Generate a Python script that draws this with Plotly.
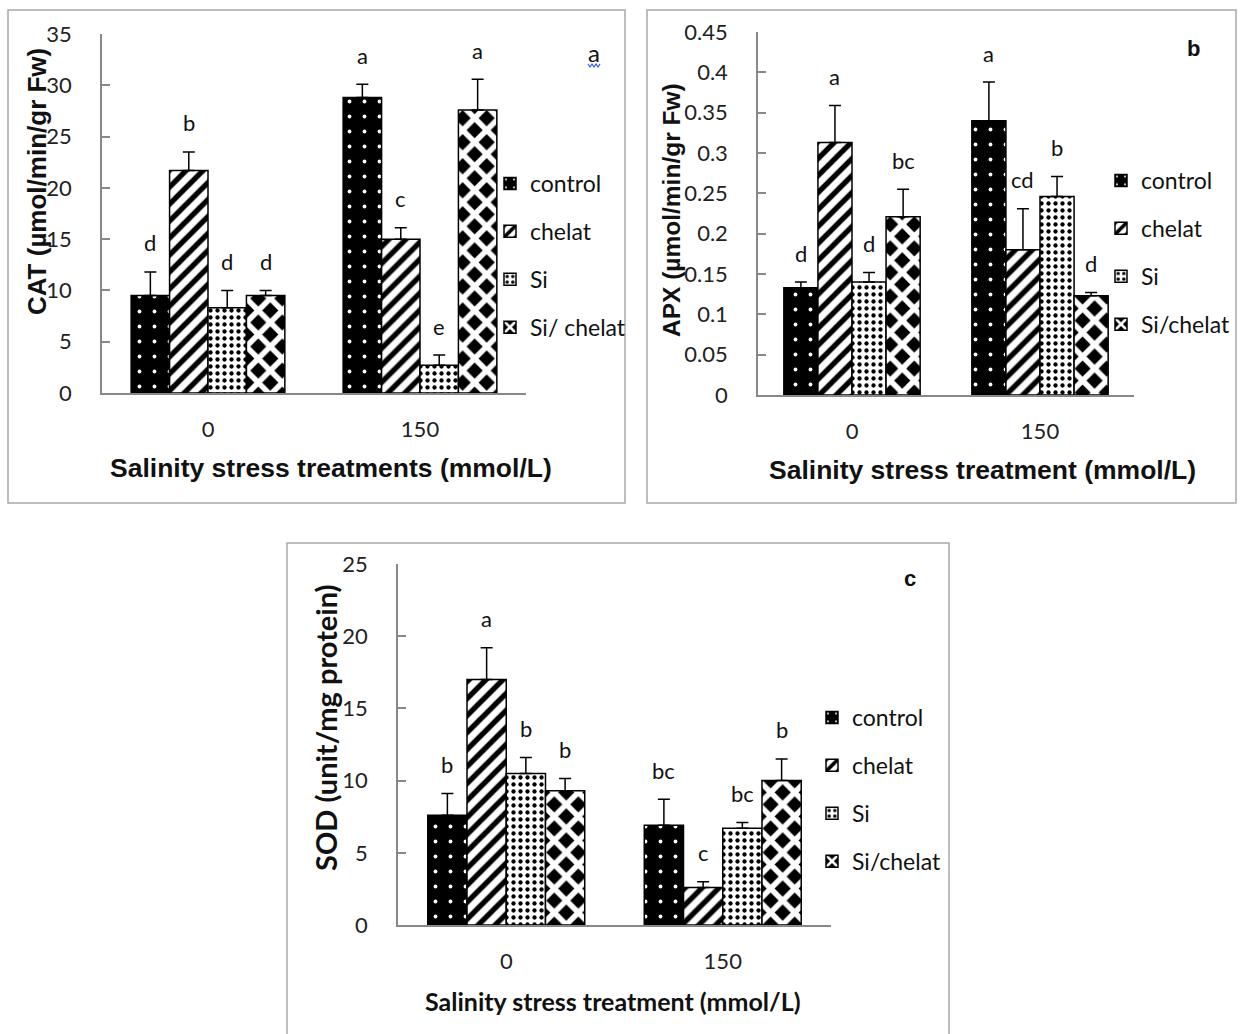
import plotly.graph_objects as go

# ---------------- data ----------------
groups = ["0", "150"]
treatments = ["control", "chelat", "Si", "Si/chelat"]
legend_a = ["control", "chelat", "Si", "Si/ chelat"]
legend_b = ["control", "chelat", "Si", "Si/chelat"]
legend_c = ["control", "chelat", "Si", "Si/chelat"]

cat_mean = [[9.5, 28.8], [21.7, 15.0], [8.3, 2.7], [9.5, 27.6]]
cat_err = [[2.3, 1.3], [1.8, 1.1], [1.7, 1.0], [0.5, 3.0]]
cat_letters = [["d", "a"], ["b", "c"], ["d", "e"], ["d", "a"]]

apx_mean = [[0.133, 0.340], [0.313, 0.180], [0.140, 0.246], [0.221, 0.123]]
apx_err = [[0.007, 0.048], [0.046, 0.051], [0.012, 0.025], [0.034, 0.004]]
apx_letters = [["d", "a"], ["a", "cd"], ["d", "b"], ["bc", "d"]]

sod_mean = [[7.6, 6.9], [17.0, 2.6], [10.5, 6.7], [9.3, 10.0]]
sod_err = [[1.5, 1.8], [2.2, 0.4], [1.1, 0.4], [0.85, 1.5]]
sod_letters = [["b", "bc"], ["a", "c"], ["b", "bc"], ["b", "b"]]

# ---------------- style ----------------
W, H = 1240, 1034
def px(x):
    return x / W
def py(y):
    return 1 - y / H

patterns = [
    dict(shape=".", bgcolor="black", fgcolor="white", size=15, solidity=0.05,
         fillmode="overlay", fgopacity=1),
    dict(shape="/", bgcolor="white", fgcolor="black", size=12, solidity=0.45,
         fillmode="overlay", fgopacity=1),
    dict(shape=".", bgcolor="white", fgcolor="black", size=7, solidity=0.3,
         fillmode="overlay", fgopacity=1),
    dict(shape="x", bgcolor="black", fgcolor="white", size=17, solidity=0.55,
         fillmode="overlay", fgopacity=1),
]
base_colors = ["black", "white", "white", "black"]

TICKFONT = dict(family="Lato", size=22, color="#222222")
LEGFONT = dict(family="Lato", size=23, color="#111111")
LETFONT = dict(family="Lato", size=22, color="#111111")
AXCOL = "#888888"
BARGAP = 0.275

panels = [
    dict(key="", mean=cat_mean, err=cat_err, letters=cat_letters, labels=legend_a,
         legend="legend", rng=[0, 35], dtick=5,
         dom_x=[px(102), px(526)], dom_y=[py(393), py(34)]),
    dict(key="2", mean=apx_mean, err=apx_err, letters=apx_letters, labels=legend_b,
         legend="legend2", rng=[0, 0.45], dtick=0.05,
         dom_x=[px(758), px(1134)], dom_y=[py(395), py(32)]),
    dict(key="3", mean=sod_mean, err=sod_err, letters=sod_letters, labels=legend_c,
         legend="legend3", rng=[0, 25], dtick=5,
         dom_x=[px(398), px(831)], dom_y=[py(925), py(564)]),
]

fig = go.Figure()
annotations = []
bw = (1 - BARGAP) / len(treatments)

for p in panels:
    xa = "x" + p["key"]
    ya = "y" + p["key"]
    for i, t in enumerate(treatments):
        fig.add_trace(go.Bar(
            x=groups, y=p["mean"][i], name=p["labels"][i],
            xaxis=xa, yaxis=ya, legend=p["legend"],
            legendgroup=p["legend"] + t,
            marker=dict(color=base_colors[i], pattern=patterns[i],
                        line=dict(color="black", width=1.5)),
            error_y=dict(type="data", array=p["err"][i],
                         arrayminus=[0] * len(groups), symmetric=False,
                         color="black", thickness=1.5, width=6),
        ))
        off = -(1 - BARGAP) / 2 + bw * (i + 0.5)
        for g in range(len(groups)):
            annotations.append(dict(
                x=g + off, y=p["mean"][i][g] + p["err"][i][g], xref=xa, yref=ya,
                text=p["letters"][i][g], showarrow=False, xanchor="center",
                yanchor="middle", yshift=29, font=LETFONT))

axis_common_y = dict(showline=True, linecolor=AXCOL, linewidth=1.5, ticks="inside",
                     ticklen=8, tickcolor=AXCOL, tickwidth=1.5, showgrid=False,
                     zeroline=False, tickfont=TICKFONT, ticklabelstandoff=24)
axis_common_x = dict(showline=True, linecolor=AXCOL, linewidth=1.5, ticks="",
                     showgrid=False, zeroline=False, tickfont=TICKFONT,
                     ticklabelstandoff=16, type="category")

layout = dict(width=W, height=H, margin=dict(l=0, r=0, t=0, b=0, autoexpand=False),
              paper_bgcolor="white", plot_bgcolor="white",
              barmode="group", bargap=BARGAP, bargroupgap=0,
              showlegend=True)
for p in panels:
    k = p["key"]
    layout["xaxis" + k] = dict(domain=p["dom_x"], anchor="y" + k, **axis_common_x)
    layout["yaxis" + k] = dict(domain=p["dom_y"], anchor="x" + k, range=p["rng"],
                               dtick=p["dtick"], **axis_common_y)

leg_common = dict(font=LEGFONT, bgcolor="rgba(0,0,0,0)", tracegroupgap=15,
                  xanchor="left", yanchor="top", itemwidth=30)
layout["legend"] = dict(x=px(490), y=py(162), **leg_common)
layout["legend2"] = dict(x=px(1101), y=py(159), **leg_common)
layout["legend3"] = dict(x=px(812), y=py(696), **leg_common)

TITLE_X = dict(family="Liberation Sans", size=26.5, color="#111111")

def paper_text(x, y, text, font, angle=0):
    return dict(x=px(x), y=py(y), xref="paper", yref="paper", text=text,
                showarrow=False, xanchor="center", yanchor="middle",
                textangle=angle, font=font)

annotations += [
    paper_text(331, 468, "<b>Salinity stress treatments (mmol/L)</b>", TITLE_X),
    paper_text(37, 182, "<b>CAT (µmol/min/gr Fw)</b>",
               dict(family="Liberation Sans", size=26, color="#111111"), -90),
    paper_text(982, 470, "<b>Salinity stress treatment (mmol/L)</b>", TITLE_X),
    paper_text(672, 210, "<b>APX (µmol/min/gr Fw)</b>",
               dict(family="Liberation Sans", size=24.5, color="#111111"), -90),
    paper_text(613, 1001, "<b>Salinity stress treatment (mmol/L)</b>",
               dict(family="Lato", size=25, color="#111111")),
    paper_text(325, 728, "<b>SOD (unit/mg protein)</b>",
               dict(family="Lato", size=29, color="#111111"), -90),
    paper_text(594, 52, "a", dict(family="Lato", size=24, color="#111111")),
    paper_text(1193, 48, "<b>b</b>", dict(family="Liberation Sans", size=22, color="#111111")),
    paper_text(910, 578, "<b>c</b>", dict(family="Liberation Sans", size=22, color="#111111")),
]
layout["annotations"] = annotations

BOX = "#a8a8a8"
zig = "M {} {} L {} {} L {} {} L {} {} L {} {} L {} {} L {} {}".format(
    px(588), py(64), px(590), py(67), px(592), py(64), px(594), py(67),
    px(596), py(64), px(598), py(67), px(600), py(64))
layout["shapes"] = [
    dict(type="rect", xref="paper", yref="paper", x0=px(8), x1=px(625), y0=py(503), y1=py(10),
         line=dict(color=BOX, width=1.5)),
    dict(type="rect", xref="paper", yref="paper", x0=px(647), x1=px(1236), y0=py(503), y1=py(10),
         line=dict(color=BOX, width=1.5)),
    dict(type="rect", xref="paper", yref="paper", x0=px(287), x1=px(949), y0=py(1045), y1=py(543),
         line=dict(color=BOX, width=1.5)),
    dict(type="path", xref="paper", yref="paper", path=zig, line=dict(color="#3355ff", width=1.2)),
]

fig.update_layout(**layout)
fig.write_html("out.html", post_script="document.body.style.margin='0px';",
               config={"displayModeBar": False})
